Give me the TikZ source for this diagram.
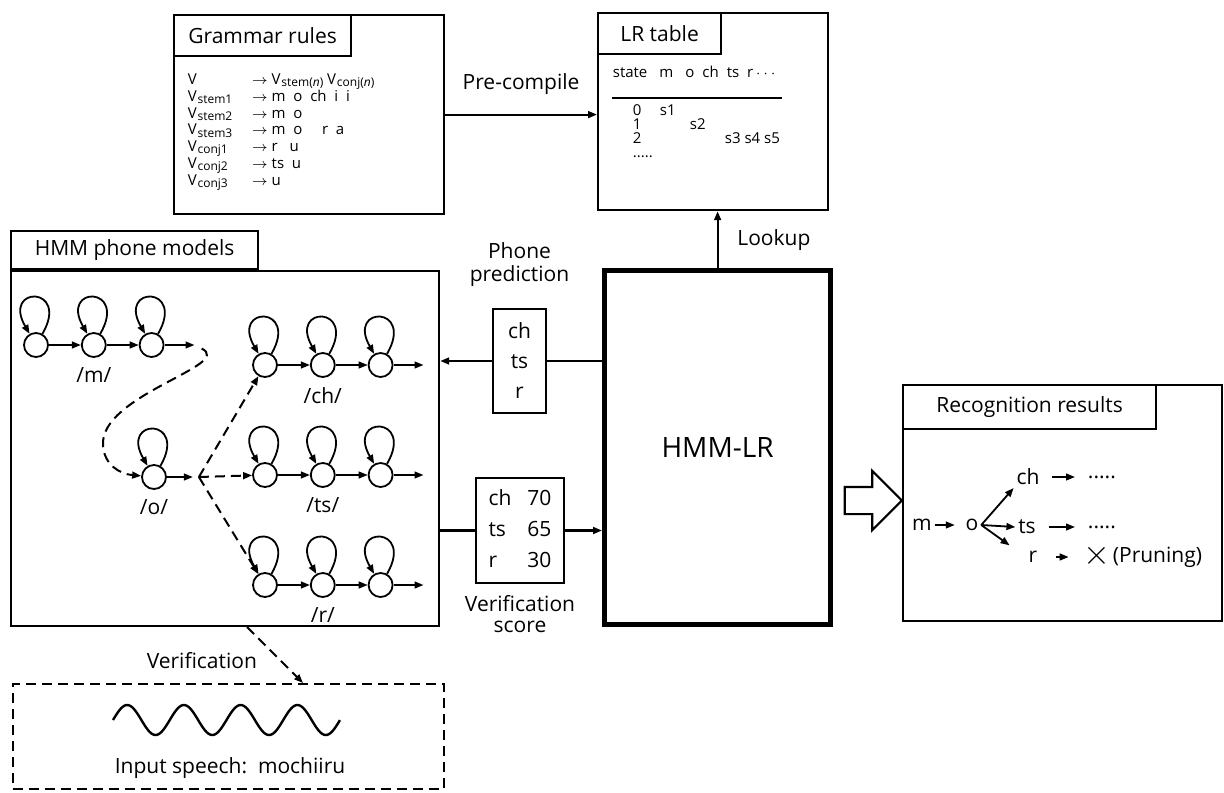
\documentclass[tikz,border=0pt]{standalone}
\usepackage{fontspec}
\setmainfont{Open Sans}
\usepackage{tikz}
\usetikzlibrary{positioning,calc,arrows.meta,shapes.arrows}
\newcommand{\lblsize}{\fontsize{10.5}{12.5}\selectfont}
\newcommand{\rulesize}{\fontsize{7.5}{8.3}\selectfont}
\newcommand{\vsub}[1]{V\kern0.4pt\raisebox{-0.3ex}{\fontsize{6}{6.5}\selectfont #1}}
% one phone HMM: three states with self loops and an exit arrow
\newcommand{\phonemodel}[3]{%
  \node[S] (#1a) at (#2,#3) {};
  \node[S, right=16pt of #1a] (#1b) {};
  \node[S, right=16pt of #1b] (#1c) {};
  \coordinate[right=15pt of #1c] (#1out);
  \draw[->] (#1a) -- (#1b);
  \draw[->] (#1b) -- (#1c);
  \draw[->] (#1c) -- (#1out);
  \foreach \s in {a,b,c}
    \draw[->] (#1\s.60) .. controls +(60:28pt) and +(120:28pt) .. (#1\s.120);
}

\begin{document}
\begin{tikzpicture}[
    x=0.5pt, y=-0.5pt,
    every node/.style={font=\lblsize},
    frame/.style={draw, line width=1.1pt, inner sep=0pt, anchor=north west},
    tab/.style={draw, line width=1.1pt, inner sep=0pt},
    S/.style={draw, circle, line width=0.9pt, minimum size=12pt, inner sep=0pt},
    sm/.style={font=\rulesize, inner sep=0pt, anchor=west},
    res/.style={inner sep=1pt},
    wire/.style={line width=1.1pt},
    dsh/.style={dash pattern=on 5pt off 3pt, line width=1pt},
    >={Triangle[length=4.5pt,width=3.4pt]},
    line width=0.9pt,
  ]
  \useasboundingbox (0,0) rectangle (1224,792);

  % grammar rules
  \node[frame, minimum width=135pt, minimum height=99.5pt] (gram) at (173,14) {};
  \node[tab, anchor=north west, minimum width=88.5pt, minimum height=20.5pt] (gramtab) at (gram.north west) {Grammar rules};
  \node[sm, anchor=north west] (rules) at (187,72) {%
    \begin{tabular}{@{}p{32pt}@{}l@{}}
      V & $\rightarrow$ \vsub{stem(\textit{n})}\ \vsub{conj(\textit{n})}\\
      \vsub{stem1} & $\rightarrow$ m\ \ o\ \ ch\ \ i\ \ i\\
      \vsub{stem2} & $\rightarrow$ m\ \ o\\
      \vsub{stem3} & $\rightarrow$ m\ \ o\ \ \ \ \ r\ \ a\\
      \vsub{conj1} & $\rightarrow$ r\ \ \ u\\
      \vsub{conj2} & $\rightarrow$ ts\ \ u\\
      \vsub{conj3} & $\rightarrow$ u
    \end{tabular}};

  % LR table
  \node[frame, minimum width=115pt, minimum height=98.5pt] (lrtab) at (597,12) {};
  \node[tab, anchor=north west, minimum width=61.5pt, minimum height=20.5pt] (lrtabtab) at (lrtab.north west) {LR table};
  \node[sm] (lrhead) at (612,72) {state\hspace{6pt}m\hspace{6pt}o\hspace{4pt}ch\hspace{4pt}ts\hspace{4pt}r\,$\cdots$};
  \draw[line width=0.8pt] (612,98) -- (782,98);
  \node[sm] (st0) at (632,110) {0};
  \node[sm] (sh1) at (659,110) {s1};
  \node[sm] (st1) at (632,124) {1};
  \node[sm] (sh2) at (689,124) {s2};
  \node[sm] (st2) at (632,138) {2};
  \node[sm] (sh3) at (724,138) {s3 s4 s5};
  \node[sm] (stmore) at (632,157) {.....};

  \draw[->, wire] (gram.east) -- (gram.east -| lrtab.west) node[midway, above=6pt] {Pre-compile};

  % HMM-LR
  \node[frame, line width=2.6pt, minimum width=113pt, minimum height=177pt, font=\fontsize{14}{16}\selectfont] (hmmlr) at (602,268) {HMM-LR};
  \draw[->, wire] (hmmlr.north) -- (hmmlr.north |- lrtab.south) node[midway, right=6pt] {Lookup};

  % HMM phone models
  \node[frame, minimum width=214pt, minimum height=177.5pt] (hmm) at (10,270) {};
  \node[tab, anchor=south west, minimum width=123.5pt, minimum height=19pt] (hmmtab) at (hmm.north west) {HMM phone models};

  \phonemodel{m}{36}{345}
  \node[below=1pt of mb] (mlbl) {/m/};
  \node[S] (oa) at (154,477) {};
  \draw[->] (oa.60) .. controls +(60:28pt) and +(120:28pt) .. (oa.120);
  \coordinate[right=13pt of oa] (oout);
  \coordinate[right=3pt of oout] (fork);
  \draw[->] (oa) -- (oout);
  \node[below=1pt of oa] (olbl) {/o/};
  \phonemodel{ch}{265}{365}
  \node[below=1pt of chb] (chlbl) {/ch/};
  \phonemodel{ts}{265}{475}
  \node[below=1pt of tsb] (tslbl) {/ts/};
  \phonemodel{r}{265}{585}
  \node[below=1pt of rb] (rlbl) {/r/};

  % search paths
  \draw[dsh, ->, shorten <=4pt] (mout) .. controls (235,365) and (100,395) .. (103,445) .. controls (104,465) and (120,474) .. (oa);
  \draw[dsh, ->] (fork) -- (cha);
  \draw[dsh, ->] (fork) -- (tsa);
  \draw[dsh, ->] (fork) -- (ra);

  % phone prediction / verification score
  \node[draw, wire, minimum width=26.5pt, minimum height=52pt, inner sep=0pt, align=center, font=\fontsize{10.5}{15}\selectfont] (pred) at (519.5,361) {ch\\ts\\r};
  \node[above=7pt of pred, align=center, font=\fontsize{10.5}{11.5}\selectfont] (predlbl) {Phone\\prediction};
  \draw[wire] (hmmlr.west |- pred.east) -- (pred.east);
  \draw[wire, ->] (pred.west) -- (pred.west -| hmm.east);

  \node[draw, wire, minimum width=44pt, minimum height=52.5pt, inner sep=0pt, font=\fontsize{10.5}{15.5}\selectfont] (score) at (520,530.5) {%
    \begin{tabular}{@{}l@{\hspace{8pt}}r@{}}ch & 70\\ ts & 65\\ r & 30\end{tabular}};
  \node[below=2pt of score, align=center, font=\fontsize{10.5}{10.5}\selectfont] (scorelbl) {Verification\\score};
  \draw[wire] (hmm.east |- score.west) -- (score.west);
  \draw[wire, ->] (score.east) -- (score.east -| hmmlr.west);

  % output arrow
  \node[single arrow, draw, line width=1.1pt, inner xsep=0pt, inner ysep=6.25pt, single arrow head extend=8pt, minimum height=28.5pt] (flow) at (866.5,500.5) {};

  % recognition results
  \node[frame, minimum width=159.5pt, minimum height=118pt] (recog) at (902,384) {};
  \node[tab, anchor=north west, minimum width=126.5pt, minimum height=22pt] (recogtab) at (recog.north west) {Recognition results};
  \node[res] (resm) at (922,525) {m};
  \node[res] (reso) at (972,525) {o};
  \node[res] (resch) at (1028,477) {ch};
  \node[res] (rests) at (1027,527) {ts};
  \node[res] (resr) at (1033,557) {r};
  \node[res, anchor=west] (reschd) at (1085,477) {.....};
  \node[res, anchor=west] (restsd) at (1085,527) {.....};
  \node[res, font=\LARGE] (resx) at (1097,556) {$\times$};
  \node[res, anchor=west] (prune) at (1110,557) {(Pruning)};
  \draw[->, shorten >=4pt] (resm) -- (reso);
  \draw[->] (reso.east) -- (resch.south west);
  \draw[->] (reso.east) -- (rests.west);
  \draw[->, shorten >=10pt] (reso.east) -- (resr.west);
  \draw[->, shorten <=5pt, shorten >=5pt] (resch.east) -- (resch.east -| reschd.west);
  \draw[->, shorten <=5pt, shorten >=5pt] (rests.east) -- (rests.east -| restsd.west);
  \draw[->, shorten <=8pt, shorten >=6pt] (resr.east) -- (resr.east -| resx.west);

  % input speech
  \node[frame, dsh, minimum width=215.5pt, minimum height=52.5pt] (speech) at (12,683) {};
  \draw[line width=1.2pt] plot[domain=0:4, samples=161, smooth] ({113+\x*56.75}, {720-15*sin(\x*360)});
  \node (spk) at (230,768) {Input speech:\ \ mochiiru};
  \coordinate (vstart) at (247,627);
  \coordinate (vend) at (303,683);
  \draw[dsh, ->] (vstart) -- (vend) node[pos=0.6, left=8pt] {Verification};
\end{tikzpicture}
\end{document}
